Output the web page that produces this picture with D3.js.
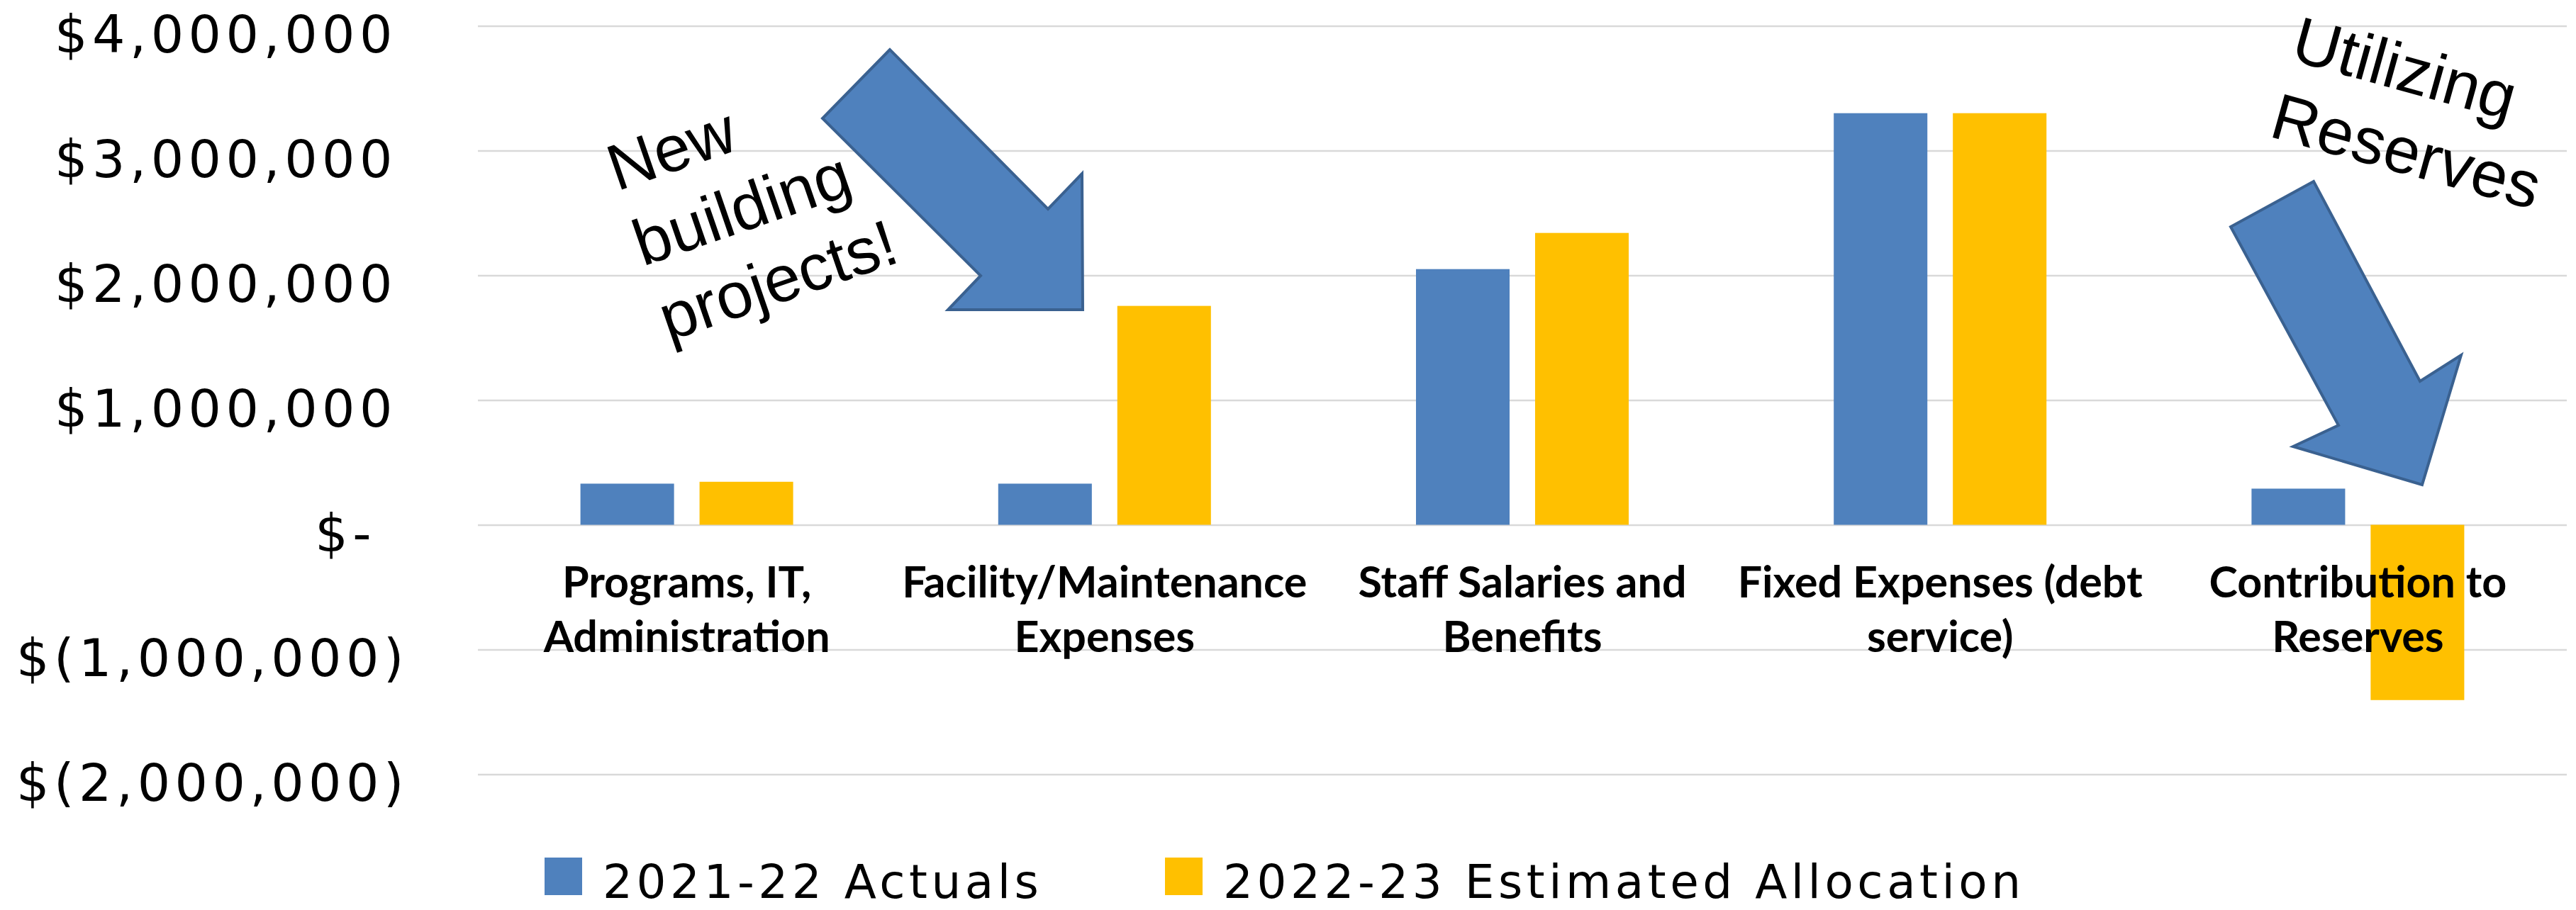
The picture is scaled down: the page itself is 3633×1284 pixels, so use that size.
<!DOCTYPE html>
<html>
<head>
<meta charset="utf-8">
<script src="https://cdn.jsdelivr.net/npm/d3@7"></script>
<style>
  body { margin: 0; background: #ffffff; }
  svg { display: block; }
  .grid line { stroke: #d9d9d9; stroke-width: 2.5; }
  .grid text { font-family: "DejaVu Sans", Verdana, sans-serif; font-size: 73px; letter-spacing: 6.5px; fill: #000; }
  .cat { font-family: Lato, "Open Sans", sans-serif; font-weight: bold; font-size: 61px; fill: #000; }
  .legend text { font-family: "DejaVu Sans", Verdana, sans-serif; font-size: 66px; letter-spacing: 5.5px; fill: #000; }
  .note { font-family: "Liberation Sans", Arial, sans-serif; font-size: 92px; fill: #000; }
</style>
</head>
<body>
<svg id="chart" width="3633" height="1284"></svg>
<script>

// categories, one string per group ("\n" = line break in the label)
var categories = [
  "Programs, IT,\nAdministration",
  "Facility/Maintenance\nExpenses",
  "Staff Salaries and\nBenefits",
  "Fixed Expenses (debt\nservice)",
  "Contribution to\nReserves"
];

var series = ["2021-22 Actuals", "2022-23 Estimated Allocation"];

var actuals_2021_22   = [330000, 330000, 2050000, 3300000, 290000];
var estimated_2022_23 = [345000, 1755000, 2340000, 3300000, -1405000];

var y_ticks = [-2000000, -1000000, 0, 1000000, 2000000, 3000000, 4000000];

var colors = ["#4f81bd", "#ffc000"];

// annotation arrows (block arrows, drawn in page pixels)
var arrow_building = [[1255, 70], [1160, 167], [1383, 389], [1337, 437], [1527, 437], [1526, 245], [1478, 295]];
var arrow_reserves = [[3263, 256], [3146, 320], [3298, 600], [3234, 630], [3416, 684], [3471, 501], [3413, 538]];


// define margins
var margin = {top: 36.5, right: 13, bottom: 191.5, left: 674};
var width = 3633 - margin.left - margin.right;
var height = 1284 - margin.top - margin.bottom;

var svg = d3.select("#chart");

var chart_g = svg.append("g")
    .attr("transform", "translate(" + margin.left + "," + margin.top + ")");

var x0 = d3.scaleBand().domain(categories).range([0, width]);
var x1 = d3.scaleBand().domain(series)
    .range([x0.bandwidth() / 2 - 150, x0.bandwidth() / 2 + 150])
    .paddingInner(0.214);
var y = d3.scaleLinear().domain([-2000000, 4000000]).range([height, 0]);

// accounting style: $1,000,000  $-  $(1,000,000)
var fmt = d3.format(",");
function acct(v) {
  if (v === 0) return "$-";
  if (v < 0) return "$(" + fmt(-v) + ")";
  return "$" + fmt(v);
}

var yAxis = d3.axisLeft(y).tickValues(y_ticks).tickSize(-width).tickFormat(acct);

var grid = chart_g.append("g")
    .attr("class", "grid")
    .call(yAxis);
grid.select(".domain").remove();
grid.selectAll(".tick text")
    .attr("font-size", null)
    .attr("font-family", null)
    .attr("dy", 37)
    .attr("x", function(d) {
      if (d === 0) return 530 - margin.left;
      if (d < 0) return 576 - margin.left;
      return 560 - margin.left;
    });

// bars
var rows = categories.map(function(c, i) {
  return {cat: c, values: [actuals_2021_22[i], estimated_2022_23[i]]};
});

var groups = chart_g.selectAll(".group")
  .data(rows)
  .enter().append("g")
    .attr("class", "group")
    .attr("transform", function(d) { return "translate(" + x0(d.cat) + ",0)"; });

groups.selectAll("rect")
  .data(function(d) { return d.values.map(function(v, j) { return {s: series[j], v: v, j: j}; }); })
  .enter().append("rect")
    .attr("x", function(d) { return x1(d.s); })
    .attr("width", x1.bandwidth())
    .attr("y", function(d) { return y(Math.max(0, d.v)); })
    .attr("height", function(d) { return Math.abs(y(d.v) - y(0)); })
    .attr("fill", function(d) { return colors[d.j]; });

// category labels (on top of bars)
var labels = chart_g.selectAll(".cat")
  .data(categories)
  .enter().append("text")
    .attr("class", "cat")
    .attr("text-anchor", "middle")
    .attr("transform", function(d) { return "translate(" + (x0(d) + x0.bandwidth() / 2) + "," + (y(0) + 102.5) + ")"; });

labels.selectAll("tspan")
  .data(function(d) { return d.split("\n"); })
  .enter().append("tspan")
    .attr("x", 0)
    .attr("dy", function(d, i) { return i === 0 ? 0 : 77; })
    .text(function(d) { return d; });

// arrows
svg.selectAll(".arrow")
  .data([arrow_building, arrow_reserves])
  .enter().append("polygon")
    .attr("class", "arrow")
    .attr("points", function(d) { return d.map(function(p) { return p.join(","); }).join(" "); })
    .attr("fill", "#4f81bd")
    .attr("stroke", "#3a6190")
    .attr("stroke-width", 4)
    .attr("stroke-linejoin", "miter");

// annotation notes
function note(lines, x, yy, angle) {
  var t = svg.append("text")
      .attr("class", "note")
      .attr("transform", "translate(" + x + "," + yy + ") rotate(" + angle + ")");
  t.selectAll("tspan")
    .data(lines)
    .enter().append("tspan")
      .attr("x", 0)
      .attr("dy", function(d, i) { return i === 0 ? 0 : 112; })
      .text(function(d) { return d; });
}
note(["New", "building", "projects!"], 870, 270, -19);
note(["Utilizing", "Reserves"], 3228, 84, 15.5);

// legend
var legend = svg.append("g").attr("class", "legend");
var legend_x = [768, 1643];

legend.selectAll("rect")
  .data(series)
  .enter().append("rect")
    .attr("x", function(d, i) { return legend_x[i]; })
    .attr("y", 1210)
    .attr("width", 53)
    .attr("height", 53)
    .attr("fill", function(d, i) { return colors[i]; });

legend.selectAll("text")
  .data(series)
  .enter().append("text")
    .attr("x", function(d, i) { return legend_x[i] + 82; })
    .attr("y", 1267)
    .text(function(d) { return d; });

</script>
</body>
</html>
